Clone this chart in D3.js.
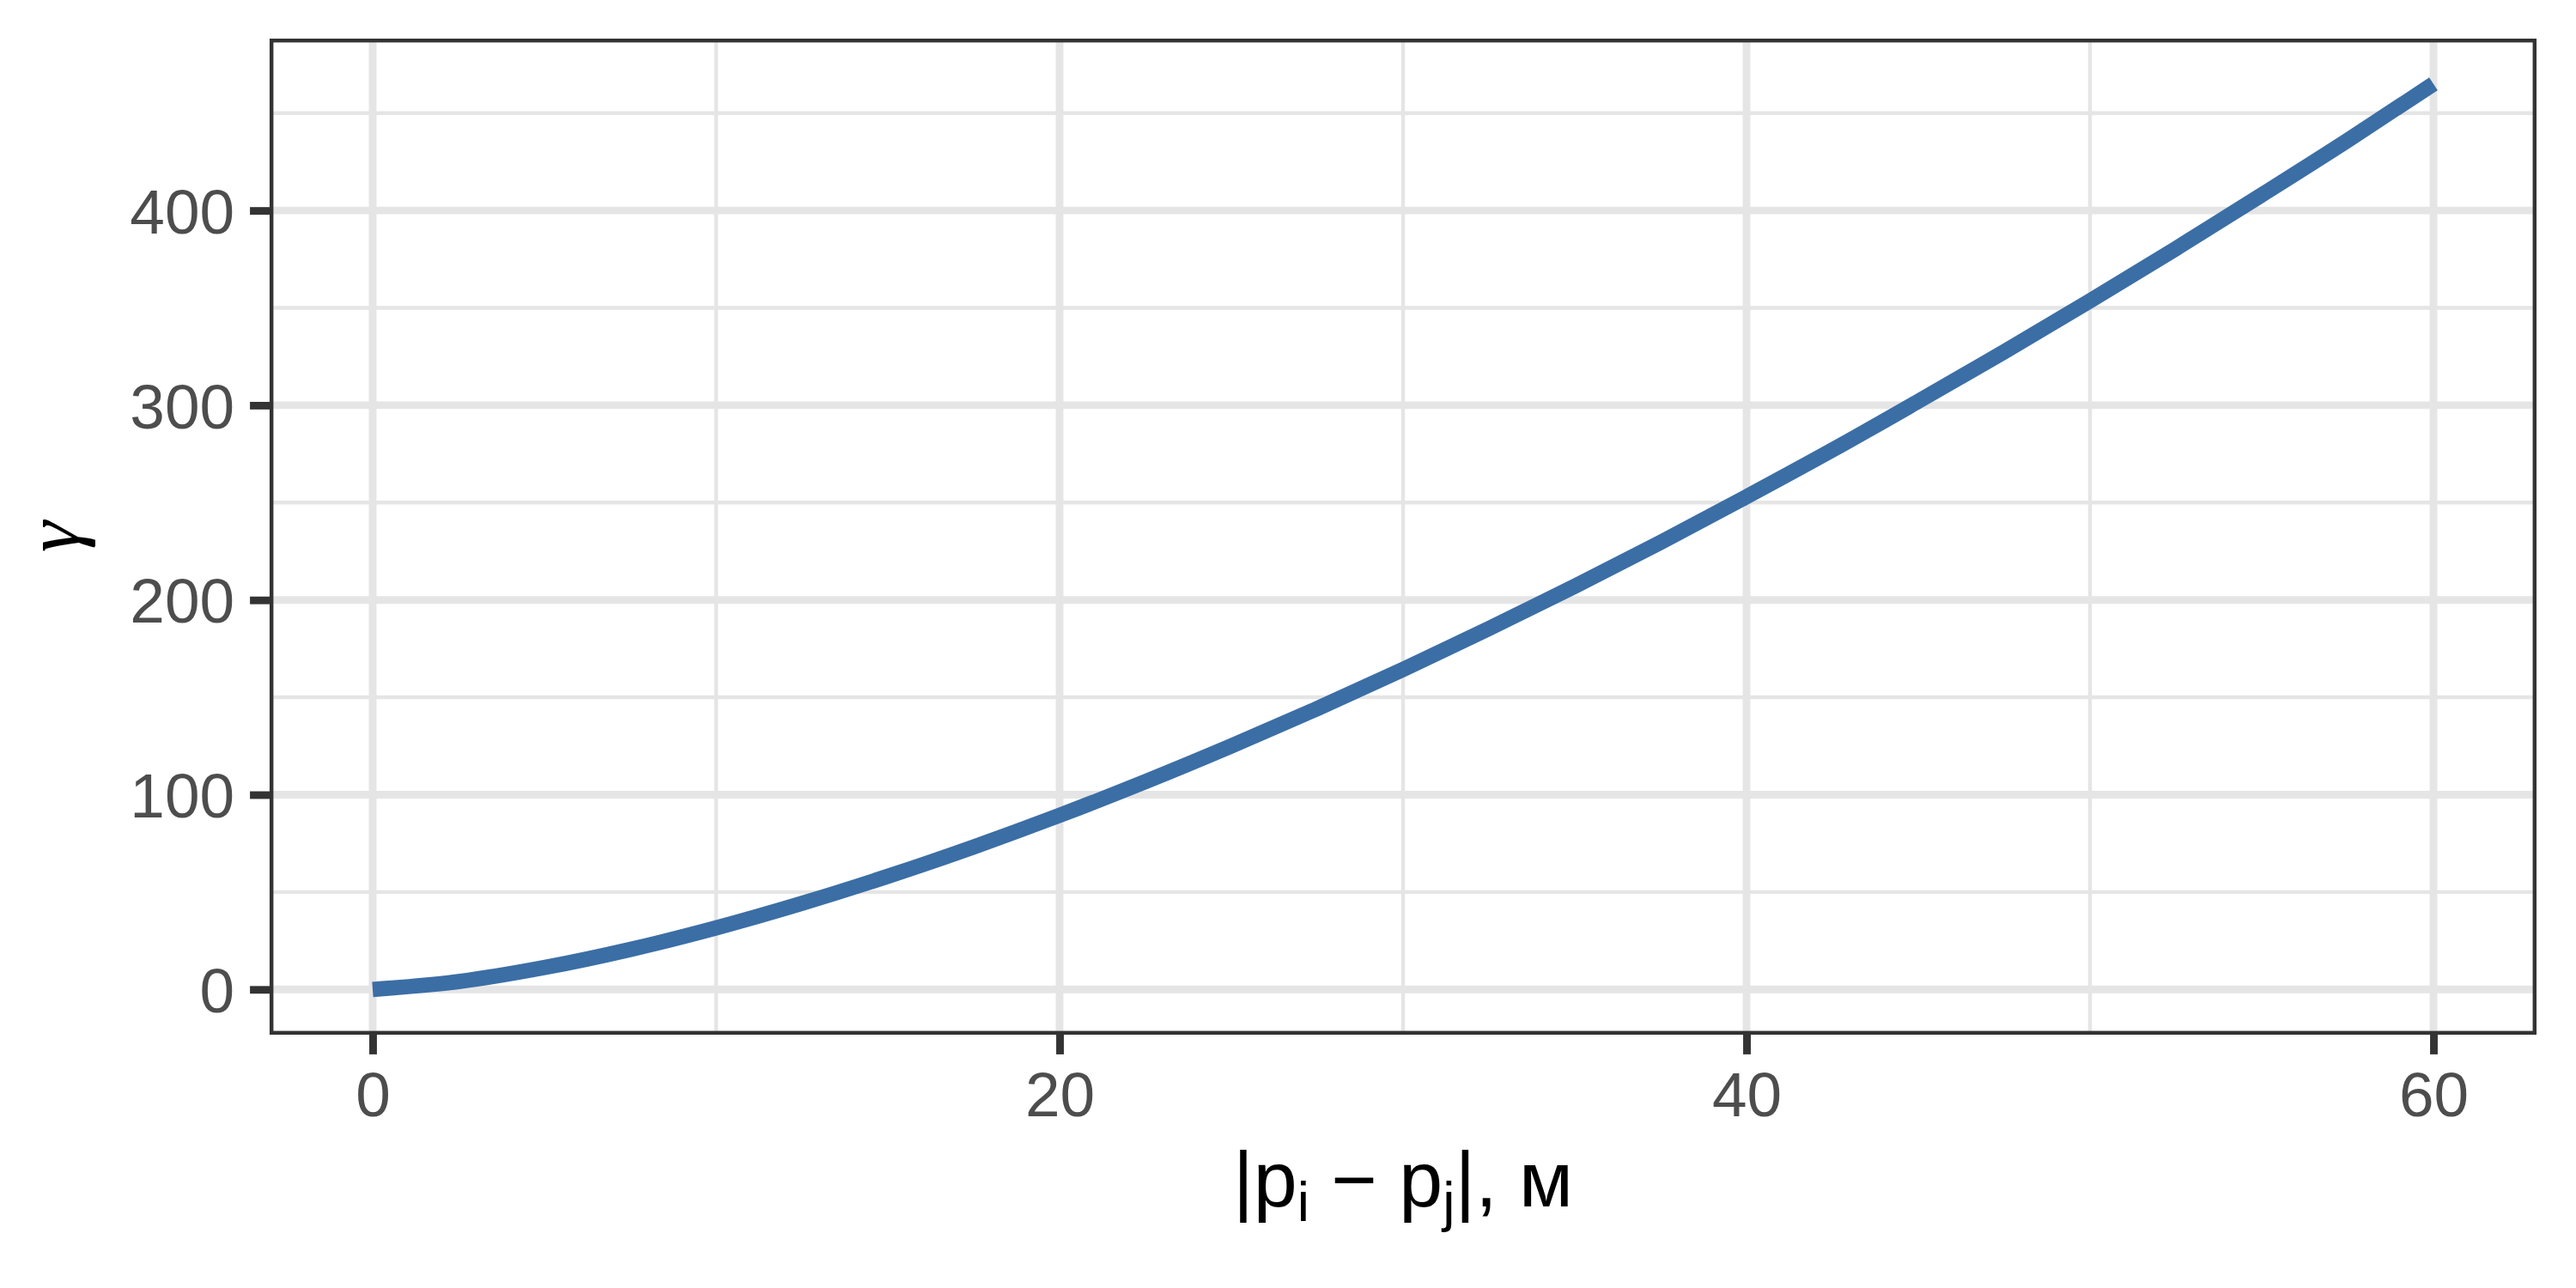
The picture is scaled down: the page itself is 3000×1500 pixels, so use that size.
<!DOCTYPE html>
<html>
<head>
<meta charset="utf-8">
<script src="https://cdn.jsdelivr.net/npm/d3@7"></script>
<style>
  body { margin: 0; background: #fff; }
  svg { display: block; }
</style>
</head>
<body>
<svg id="chart"></svg>
<script>
// distances (m) and semivariance
var lags  = [0, 2.5, 5, 7.5, 10, 12.5, 15, 17.5, 20, 22.5, 25, 27.5, 30,
             32.5, 35, 37.5, 40, 42.5, 45, 47.5, 50, 52.5, 55, 57.5, 60];
var gamma = [0, 4, 11.2, 20.5, 31.6, 44.2, 58.1, 73.2, 89.4, 106.7, 125, 144.2, 164.3,
             185.3, 207, 229.6, 253, 277, 302, 327.4, 353.6, 380.4, 408, 436, 465];

var xTicks = [0, 20, 40, 60];
var xMinor = [10, 30, 50];
var yTicks = [0, 100, 200, 300, 400];
var yMinor = [50, 150, 250, 350, 450];

var W = 3000, H = 1500;
// panel edges (note: "top" is a reserved window prop, so prefix everything)
var pLeft = 314, pRight = 2954, pTop = 45, pBottom = 1205;

var svg = d3.select("#chart").attr("width", W).attr("height", H);

function pad(ext) {
  var d = (ext[1] - ext[0]) * 0.05;
  return [ext[0] - d, ext[1] + d];
}

var x = d3.scaleLinear().domain(pad(d3.extent(lags))).range([pLeft, pRight]);
var y = d3.scaleLinear().domain(pad(d3.extent(gamma))).range([pBottom, pTop]);

var grid = svg.append("g");

// minor grid
grid.selectAll(".vminor").data(xMinor).enter().append("line")
    .attr("x1", function(d) { return x(d); })
    .attr("x2", function(d) { return x(d); })
    .attr("y1", pTop).attr("y2", pBottom)
    .attr("stroke", "#e5e5e5").attr("stroke-width", 4.45);
grid.selectAll(".hminor").data(yMinor).enter().append("line")
    .attr("y1", function(d) { return y(d); })
    .attr("y2", function(d) { return y(d); })
    .attr("x1", pLeft).attr("x2", pRight)
    .attr("stroke", "#e5e5e5").attr("stroke-width", 4.45);

// major grid
grid.selectAll(".vmajor").data(xTicks).enter().append("line")
    .attr("x1", function(d) { return x(d); })
    .attr("x2", function(d) { return x(d); })
    .attr("y1", pTop).attr("y2", pBottom)
    .attr("stroke", "#e5e5e5").attr("stroke-width", 8.9);
grid.selectAll(".hmajor").data(yTicks).enter().append("line")
    .attr("y1", function(d) { return y(d); })
    .attr("y2", function(d) { return y(d); })
    .attr("x1", pLeft).attr("x2", pRight)
    .attr("stroke", "#e5e5e5").attr("stroke-width", 8.9);

// the curve
var line = d3.line()
    .x(function(d, i) { return x(lags[i]); })
    .y(function(d) { return y(d); })
    .curve(d3.curveMonotoneX);

svg.append("path")
    .datum(gamma)
    .attr("d", line)
    .attr("fill", "none")
    .attr("stroke", "#3b6ea5")
    .attr("stroke-width", 17.8)
    .attr("stroke-linecap", "butt");

// panel border (drawn inside the panel, like a clipped ggplot border)
svg.append("rect")
    .attr("x", pLeft + 2.2).attr("y", pTop + 2.2)
    .attr("width", pRight - pLeft - 4.4).attr("height", pBottom - pTop - 4.4)
    .attr("fill", "none")
    .attr("stroke", "#333").attr("stroke-width", 4.45);

// axes
var xAxis = svg.append("g")
    .attr("transform", "translate(0," + pBottom + ")")
    .call(d3.axisBottom(x).tickValues(xTicks).tickSize(22.9).tickPadding(18));
var yAxis = svg.append("g")
    .attr("transform", "translate(" + pLeft + ",0)")
    .call(d3.axisLeft(y).tickValues(yTicks).tickSize(22.9).tickPadding(18));

[xAxis, yAxis].forEach(function(ax) {
  ax.select(".domain").remove();
  ax.selectAll(".tick line").attr("stroke", "#333").attr("stroke-width", 8.9);
  ax.selectAll(".tick text")
    .attr("fill", "#4d4d4d")
    .style("font-family", "'Liberation Sans', Arial, sans-serif")
    .style("font-size", "73px");
});
xAxis.selectAll(".tick text").attr("dy", null).attr("y", 95);
yAxis.selectAll(".tick text").attr("dy", "0.36em");

// x title: |p_i - p_j|, м
var xt = svg.append("text")
    .attr("x", (pLeft + pRight) / 2)
    .attr("y", 1405)
    .attr("text-anchor", "middle")
    .attr("fill", "#000")
    .style("font-family", "'Liberation Sans', Arial, sans-serif")
    .style("font-size", "91.6px");
xt.append("tspan").text("|p");
xt.append("tspan").attr("dy", 17).style("font-size", "64px").text("i");
xt.append("tspan").attr("dy", -17).text(" \u2212 p");
xt.append("tspan").attr("dy", 17).style("font-size", "64px").text("j");
xt.append("tspan").attr("dy", -17).text("|,  \u043c");

// y title
svg.append("text")
    .attr("transform", "translate(92," + ((pTop + pBottom) / 2) + ") rotate(-90)")
    .attr("text-anchor", "middle")
    .attr("fill", "#000")
    .style("font-family", "'Liberation Serif', 'DejaVu Serif', serif")
    .style("font-style", "italic")
    .style("font-size", "92px")
    .text("\u03b3");
</script>
</body>
</html>
